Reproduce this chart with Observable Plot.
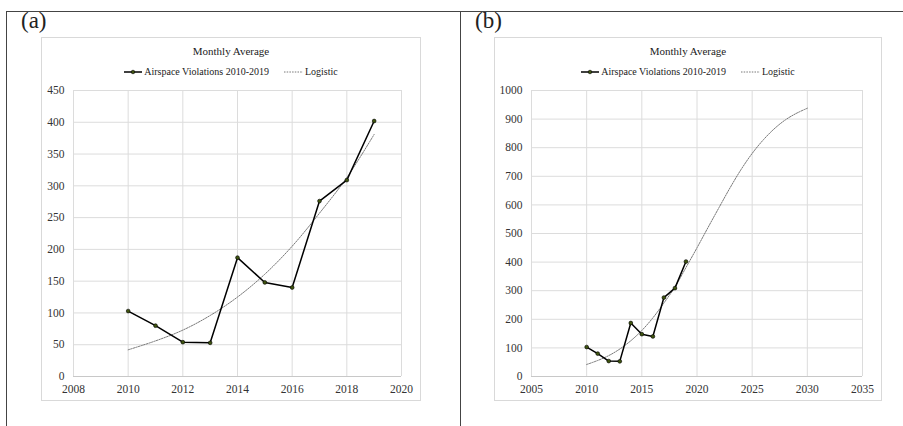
<!DOCTYPE html>
<html>
<head>
<meta charset="utf-8">
<script src="https://cdn.jsdelivr.net/npm/d3@7"></script>
<script src="https://cdn.jsdelivr.net/npm/@observablehq/plot@0.6"></script>
<style>
  body { margin: 0; background: #fff; }
  #root { position: relative; width: 903px; height: 426px; background: #fff; overflow: hidden; font-family: "Liberation Serif", "Times New Roman", serif; color: #222; }
  .abs { position: absolute; }
  .box { position: absolute; border: 1px solid #d9d9d9; box-sizing: border-box; }
  .title { position: absolute; text-align: center; font-size: 11px; line-height: 14px; }
  .legend { position: absolute; display: flex; justify-content: center; align-items: center; font-size: 10px; line-height: 12px; }
  .legend svg { display: block; }
  .plab { position: absolute; font-size: 23px; line-height: 24px; color: #222; }
</style>
</head>
<body>
<div id="root"></div>
<script>
// ---- data ----
const years = [2010, 2011, 2012, 2013, 2014, 2015, 2016, 2017, 2018, 2019];
const violations = [103, 80, 54, 53, 187, 148, 140, 276, 309, 402];
const logisticYears = [2010, 2011, 2012, 2013, 2014, 2015, 2016, 2017, 2018, 2019, 2020,
                       2021, 2022, 2023, 2024, 2025, 2026, 2027, 2028, 2029, 2030];
const logisticValues = [42, 56, 73, 96, 125, 161, 205, 257, 313, 381, 450,
                        521, 591, 660, 724, 780, 827, 866, 897, 920, 938];
const chartTitle = "Monthly Average";
const seriesName = "Airspace Violations 2010-2019";
const fitName = "Logistic";
const panelLabels = ["(a)", "(b)"];
const xTicksA = [2008, 2010, 2012, 2014, 2016, 2018, 2020];
const yTicksA = [0, 50, 100, 150, 200, 250, 300, 350, 400, 450];
const xTicksB = [2005, 2010, 2015, 2020, 2025, 2030, 2035];
const yTicksB = [0, 100, 200, 300, 400, 500, 600, 700, 800, 900, 1000];

const obs = years.map((y, i) => ({year: y, value: violations[i]}));
const fit = logisticYears.map((y, i) => ({year: y, value: logisticValues[i]}));

const root = document.getElementById("root");
function add(cls, style, html) {
  const d = document.createElement("div");
  d.className = cls;
  Object.assign(d.style, style);
  if (html != null) d.innerHTML = html;
  root.appendChild(d);
  return d;
}

// outer frame
add("abs", {left: "6px", top: "11px", width: "897px", height: "0", borderTop: "1.5px solid #444"});
add("abs", {left: "6px", top: "11px", width: "0", height: "415px", borderLeft: "1.5px solid #444"});
add("abs", {left: "460px", top: "11px", width: "0", height: "415px", borderLeft: "1.5px solid #444"});

function legendHTML() {
  return `<svg width="18" height="8"><line x1="0" y1="4" x2="18" y2="4" stroke="#000" stroke-width="1.5"/><circle cx="9" cy="4" r="1.8" fill="#3f5410" stroke="#000" stroke-width="0.6"/></svg>
  <span style="margin-left:2px">${seriesName}</span>
  <svg width="19" height="8" style="margin-left:15px"><line x1="0" y1="4" x2="19" y2="4" stroke="#555" stroke-width="0.8" stroke-dasharray="1.5,1.2"/></svg>
  <span style="margin-left:2px">${fitName}</span>`;
}

function makePanel({boxLeft, boxRight, label, labelLeft, xDomain, xTicks, yDomain, yTicks, fitData, marginLeft}) {
  const boxTop = 37, boxBottom = 401;
  add("box", {left: boxLeft + "px", top: boxTop + "px", width: (boxRight - boxLeft) + "px", height: (boxBottom - boxTop) + "px"});
  add("plab", {left: labelLeft + "px", top: "9px"}, label);
  add("title", {left: boxLeft + "px", width: (boxRight - boxLeft) + "px", top: "44px"}, chartTitle);
  add("legend", {left: boxLeft + "px", width: (boxRight - boxLeft) + "px", top: "66px"}, legendHTML());

  const width = boxRight - boxLeft;
  const plot = Plot.plot({
    width,
    height: 320,
    marginLeft,
    marginRight: 20,
    marginTop: 10,
    marginBottom: 24,
    style: {fontFamily: "'Liberation Serif', 'Times New Roman', serif", fontSize: "11.5px", color: "#333", background: "transparent", overflow: "visible"},
    x: {domain: xDomain, ticks: xTicks, tickFormat: d => String(d), tickSize: 0, tickPadding: 8, label: null},
    y: {domain: yDomain, ticks: yTicks, tickFormat: d => String(d), tickSize: 0, tickPadding: 9, label: null},
    marks: [
      Plot.gridX(xTicks, {stroke: "#dcdcdc", strokeOpacity: 1, strokeWidth: 1}),
      Plot.gridY(yTicks, {stroke: "#dcdcdc", strokeOpacity: 1, strokeWidth: 1}),
      Plot.ruleY([yDomain[0]], {stroke: "#c8c8c8", strokeWidth: 1}),
      Plot.line(fitData, {x: "year", y: "value", stroke: "#555", strokeWidth: 0.8, strokeDasharray: "1.5,1.2", curve: "catmull-rom"}),
      Plot.line(obs, {x: "year", y: "value", stroke: "#000", strokeWidth: 1.5}),
      Plot.dot(obs, {x: "year", y: "value", r: 1.9, fill: "#3f5410", stroke: "#000", strokeWidth: 0.6})
    ]
  });
  plot.style.position = "absolute";
  plot.style.left = boxLeft + "px";
  plot.style.top = "80px";
  root.appendChild(plot);
}

makePanel({
  boxLeft: 41, boxRight: 421, label: panelLabels[0], labelLeft: 21,
  xDomain: [2008, 2020], xTicks: xTicksA, yDomain: [0, 450], yTicks: yTicksA,
  fitData: fit.filter(d => d.year <= 2019), marginLeft: 32
});
makePanel({
  boxLeft: 494, boxRight: 882, label: panelLabels[1], labelLeft: 475,
  xDomain: [2005, 2035], xTicks: xTicksB, yDomain: [0, 1000], yTicks: yTicksB,
  fitData: fit, marginLeft: 37
});
</script>
</body>
</html>
